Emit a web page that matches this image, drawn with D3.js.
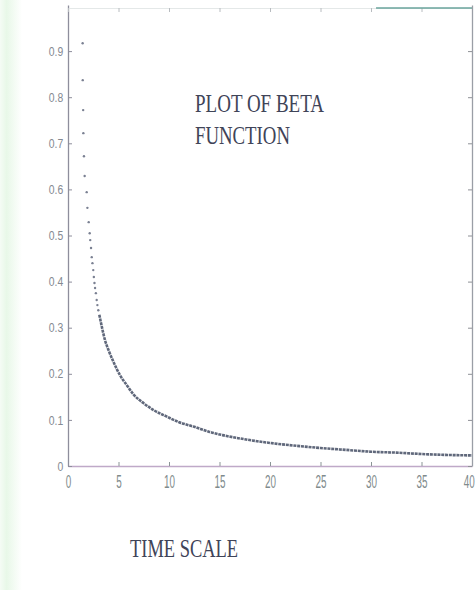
<!DOCTYPE html>
<html>
<head>
<meta charset="utf-8">
<script src="https://cdn.jsdelivr.net/npm/d3@7"></script>
<style>
  body { margin: 0; background: #fff; }
  svg { display: block; }
</style>
</head>
<body>
<div id="chart"></div>
<script>
// Tick values
const xTicks = [0, 5, 10, 15, 20, 25, 30, 35, 40];
const yTicks = [0, 0.1, 0.2, 0.3, 0.4, 0.5, 0.6, 0.7, 0.8, 0.9];

// Steep part of the curve: separate dots
const dotX = [1.45, 1.46, 1.5, 1.52, 1.58, 1.65, 1.85, 1.92, 2.05, 2.15, 2.2,
              2.28, 2.35, 2.42, 2.5, 2.56, 2.62, 2.68, 2.76, 2.84, 2.91, 3.0];
const dotY = [0.917, 0.837, 0.772, 0.722, 0.672, 0.629, 0.594, 0.560, 0.529, 0.505, 0.490,
              0.473, 0.453, 0.440, 0.425, 0.410, 0.397, 0.386, 0.375, 0.360, 0.349, 0.338];

// Flat part: dots so close they read as one thick line
const curveX = [3.1, 3.35, 3.65, 4.0, 4.5, 5.15, 5.8, 6.5, 7.5, 8.5, 9.8, 11, 12.5,
                14, 15.3, 17.5, 20, 23, 25, 27.5, 30, 32.5, 35, 37.5, 40];
const curveY = [0.328, 0.302, 0.274, 0.252, 0.226, 0.197, 0.176, 0.155, 0.136, 0.121, 0.107, 0.095, 0.085,
                0.074, 0.067, 0.058, 0.050, 0.043, 0.039, 0.035, 0.031, 0.029, 0.026, 0.024, 0.023];

const titleLines = ["PLOT OF BETA", "FUNCTION"];
const xLabel = "TIME SCALE";

const width = 476;
const height = 590;

const svg = d3.select("#chart")
    .append("svg")
    .attr("width", width)
    .attr("height", height);

// pale green edge of the scanned page
const grad = svg.append("defs")
    .append("linearGradient")
    .attr("id", "edge")
    .attr("x1", "0%").attr("x2", "100%");
grad.append("stop").attr("offset", "0%").attr("stop-color", "#f5fcf5");
grad.append("stop").attr("offset", "30%").attr("stop-color", "#e8f8e8");
grad.append("stop").attr("offset", "100%").attr("stop-color", "#ffffff");

svg.append("rect")
    .attr("x", 0).attr("y", 0)
    .attr("width", 22).attr("height", height)
    .attr("fill", "url(#edge)");

const x = d3.scaleLinear().domain([0, 40]).range([68, 472]);
const y = d3.scaleLinear().domain([0, 1]).range([466, 5]);

// Bottom axis
const xAxis = svg.append("g")
    .attr("transform", "translate(0," + y(0) + ")")
    .call(d3.axisBottom(x)
        .tickValues(xTicks)
        .tickSizeInner(-4)
        .tickSizeOuter(0)
        .tickPadding(9)
        .tickFormat(d3.format("d")));

xAxis.select(".domain").attr("stroke", "#bfa9c8").attr("stroke-width", 1.5);
xAxis.selectAll(".tick line").attr("stroke", "#8b9596");
xAxis.selectAll(".tick text")
    .attr("fill", "#7f8b8c")
    .attr("font-family", "Liberation Sans, Arial, sans-serif")
    .attr("font-size", 18)
    .attr("transform", "scale(0.55,1)")
    .attr("x", function(d) { return d === 40 ? -6 : 0; });

// Left axis
const yAxis = svg.append("g")
    .attr("transform", "translate(" + x(0) + ",0)")
    .call(d3.axisLeft(y)
        .tickValues(yTicks)
        .tickSizeInner(-4)
        .tickSizeOuter(0)
        .tickPadding(6)
        .tickFormat(function(d) { return d === 0 ? "0" : d3.format(".1f")(d); }));

yAxis.select(".domain").attr("stroke", "#8e8e9c").attr("stroke-width", 1.3);
yAxis.selectAll(".tick line").attr("stroke", "#8e8e9c");
yAxis.selectAll(".tick text")
    .attr("fill", "#858a92")
    .attr("font-family", "Liberation Sans, Arial, sans-serif")
    .attr("font-size", 13)
    .attr("transform", "scale(0.8,1)");

// Top frame (faint)
const topAxis = svg.append("g")
    .attr("transform", "translate(0,8)")
    .call(d3.axisTop(x)
        .tickValues(xTicks)
        .tickSizeInner(-4)
        .tickSizeOuter(0)
        .tickFormat(""));

topAxis.select(".domain").attr("stroke", "#e4e8e8");
topAxis.selectAll(".tick line").attr("stroke", "#b8bcc0");

svg.append("line")
    .attr("x1", x(30.5)).attr("x2", x(40))
    .attr("y1", 8).attr("y2", 8)
    .attr("stroke", "#6aa59c")
    .attr("stroke-width", 1.5);

// Right frame
const rightAxis = svg.append("g")
    .attr("transform", "translate(" + x(40) + ",0)")
    .call(d3.axisRight(y)
        .tickValues(yTicks)
        .tickSizeInner(-4)
        .tickSizeOuter(0)
        .tickFormat(""));

rightAxis.select(".domain").attr("stroke", "#9a9ea6").attr("stroke-width", 1.3);
rightAxis.selectAll(".tick line").attr("stroke", "#8e9096");

// Dense part of the curve
const curveData = curveX.map(function(d, i) {
    return { x: d, y: curveY[i] };
});

const line = d3.line()
    .x(function(d) { return x(d.x); })
    .y(function(d) { return y(d.y); })
    .curve(d3.curveMonotoneX);

svg.append("path")
    .datum(curveData)
    .attr("d", line)
    .attr("fill", "none")
    .attr("stroke", "#4f586d")
    .attr("stroke-width", 2.6)
    .attr("stroke-dasharray", "3,0.8")
    .attr("opacity", 0.9);

// Sparse dots
const dotData = dotX.map(function(d, i) {
    return { x: d, y: dotY[i] };
});

svg.selectAll("circle.dot")
    .data(dotData)
    .enter()
    .append("circle")
    .attr("class", "dot")
    .attr("cx", function(d) { return x(d.x); })
    .attr("cy", function(d) { return y(d.y); })
    .attr("r", 1.2)
    .attr("fill", "#7a8092");

// Title, in the plot
svg.selectAll("text.title")
    .data(titleLines)
    .enter()
    .append("text")
    .attr("class", "title")
    .attr("x", 195)
    .attr("y", function(d, i) { return 112 + i * 32; })
    .attr("textLength", function(d, i) { return i === 0 ? 129 : 95; })
    .attr("lengthAdjust", "spacingAndGlyphs")
    .attr("font-family", "Liberation Serif, Times New Roman, serif")
    .attr("font-size", 25)
    .attr("fill", "#3f4458")
    .text(function(d) { return d; });

svg.append("text")
    .attr("x", 130)
    .attr("y", 557)
    .attr("textLength", 108)
    .attr("lengthAdjust", "spacingAndGlyphs")
    .attr("font-family", "Liberation Serif, Times New Roman, serif")
    .attr("font-size", 26)
    .attr("fill", "#3f4458")
    .text(xLabel);
</script>
</body>
</html>
